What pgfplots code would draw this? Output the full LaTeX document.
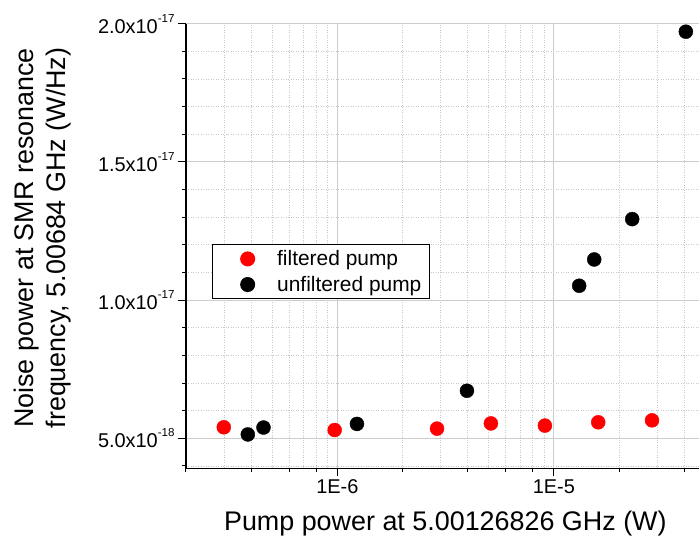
\documentclass[border=0pt]{standalone}
\usepackage{pgfplots}
\pgfplotsset{compat=1.18}
\usepackage{fontspec}
\setmainfont{Liberation Sans}
\newcommand{\expo}[1]{\raisebox{11bp}{\fontsize{11.6}{12}\selectfont #1}}
\definecolor{majgrid}{RGB}{205,205,205}
\definecolor{mingrid}{RGB}{200,200,200}
\begin{document}
\begin{tikzpicture}
\useasboundingbox (-186bp,-69.7bp) rectangle (513bp,468.3bp);
\begin{axis}[
  scale only axis,
  width=513bp, height=444.6bp,
  xmode=log,
  xmin=2e-7, xmax=4.68e-5,
  ymin=3.915e-18, ymax=2e-17,
  scaled y ticks=false,
  axis x line*=bottom, axis y line*=left,
  axis line style={-, line width=1.6bp, black},
  tick align=outside,
  major tick length=8bp, minor tick length=4bp,
  tick style={black, line width=1bp},
  xtick={1e-6,1e-5},
  xticklabels={1E-6,1E-5},
  minor xtick={2e-7,3e-7,4e-7,5e-7,6e-7,7e-7,8e-7,9e-7,2e-6,3e-6,4e-6,5e-6,6e-6,7e-6,8e-6,9e-6,2e-5,3e-5,4e-5},
  minor x tick style={draw=none},
  extra x ticks={2e-7,4e-7,6e-7,8e-7,2e-6,4e-6,6e-6,8e-6,2e-5,4e-5},
  extra x tick labels={},
  extra x tick style={grid=none, major tick length=4bp},
  ytick={5e-18,1e-17,1.5e-17,2e-17},
  yticklabels={5.0x10\expo{-18},1.0x10\expo{-17},1.5x10\expo{-17},2.0x10\expo{-17}},
  minor ytick={4e-18,6e-18,7e-18,8e-18,9e-18,1.1e-17,1.2e-17,1.3e-17,1.4e-17,1.6e-17,1.7e-17,1.8e-17,1.9e-17},
  grid=both,
  major grid style={majgrid, line width=0.9bp},
  minor grid style={mingrid, line width=0.8bp, dash pattern=on 1bp off 1.5bp},
  ticklabel style={font=\fontsize{20}{24}\selectfont},
  xlabel={Pump power at 5.00126826 GHz (W)},
  xlabel style={at={(axis description cs:0.5056,-0.1404)}, anchor=base, font=\fontsize{27}{32}\selectfont},
  ylabel={Noise power at SMR resonance\\frequency, 5.00684 GHz (W/Hz)},
  ylabel style={at={(axis description cs:-0.2797,0.518)}, anchor=center, align=center, font=\fontsize{27}{32}\selectfont},
  legend style={at={(axis description cs:0.0501,0.5043)}, anchor=north west, draw=black, line width=1bp,
    font=\fontsize{21}{24}\selectfont, fill=white, inner xsep=6bp, inner ysep=4bp, row sep=5bp},
  legend cell align=left,
  legend image code/.code={\path (-29bp,0bp) (27bp,0bp);
    \draw[mark repeat=2,mark phase=2,#1] plot coordinates {(-1bp,0bp) (0bp,0bp) (1bp,0bp)};},
  clip=false,
]
\addplot[only marks, mark=*, mark size=7bp, color=red, fill=red] coordinates {
(2.99e-7,5.40e-18) (9.72e-7,5.30e-18) (2.887e-6,5.35e-18) (5.12e-6,5.54e-18)
(9.09e-6,5.46e-18) (1.603e-5,5.58e-18) (2.84e-5,5.65e-18)
};
\addlegendentry{filtered pump}
\addplot[only marks, mark=*, mark size=7bp, color=black, fill=black] coordinates {
(3.86e-7,5.14e-18) (4.56e-7,5.39e-18) (1.232e-6,5.52e-18) (3.97e-6,6.72e-18)
(1.309e-5,1.052e-17) (1.536e-5,1.147e-17) (2.30e-5,1.293e-17) (4.07e-5,1.971e-17)
};
\addlegendentry{unfiltered pump}
\end{axis}
\end{tikzpicture}
\end{document}
